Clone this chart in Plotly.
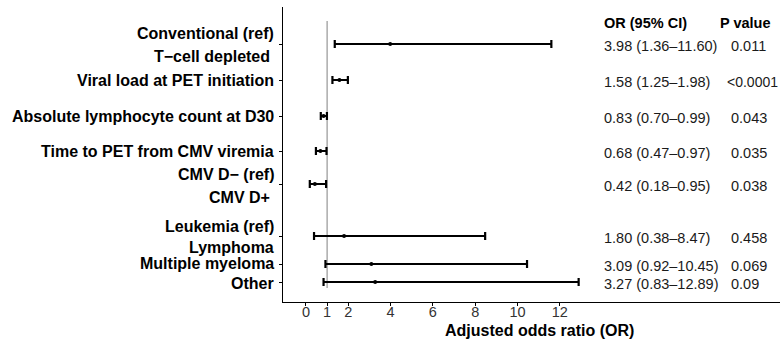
import plotly.graph_objects as go

# ---- data ----
row_labels = ["T−cell depleted", "Viral load at PET initiation", "Absolute lymphocyte count at D30",
              "Time to PET from CMV viremia", "CMV D+", "Lymphoma", "Multiple myeloma", "Other"]
or_vals = [3.98, 1.58, 0.83, 0.68, 0.42, 1.80, 3.09, 3.27]
ci_low = [1.36, 1.25, 0.70, 0.47, 0.18, 0.38, 0.92, 0.83]
ci_high = [11.60, 1.98, 0.99, 0.97, 0.95, 8.47, 10.45, 12.89]
p_values = ["0.011", "<0.0001", "0.043", "0.035", "0.038", "0.458", "0.069", "0.09"]
x_ticks = [0, 1, 2, 4, 6, 8, 10, 12]

# y-axis label texts (including reference categories)
axis_labels = ["Conventional (ref)", "T−cell depleted ", "Viral load at PET initiation",
               "Absolute lymphocyte count at D30", "Time to PET from CMV viremia",
               "CMV D− (ref)", "CMV D+ ", "Leukemia (ref)", "Lymphoma", "Multiple myeloma", "Other"]

# ---- layout positions (vertical units, top = small) ----
row_pos = [44, 80, 116, 151, 184, 236, 264, 282]
label_pos = [33, 56, 80, 116, 151, 174, 197, 226, 247, 263, 283]
y_range = [302, 7]
x_range = [-1.087, 22.41]

FONT = "Liberation Sans, Arial, Helvetica, sans-serif"

fig = go.Figure()
fig.add_trace(go.Scatter(
    x=or_vals, y=row_pos, mode="markers",
    marker=dict(color="black", size=4),
    error_x=dict(type="data", symmetric=False,
                 array=[h - o for h, o in zip(ci_high, or_vals)],
                 arrayminus=[o - l for o, l in zip(or_vals, ci_low)],
                 color="black", thickness=2.2, width=4),
    showlegend=False, hoverinfo="skip",
))

# reference line at OR = 1
fig.add_shape(type="line", x0=1, x1=1, y0=21, y1=288, xref="x", yref="y",
              line=dict(color="#ababab", width=1.5), layer="below")

annotations = []
# y labels
for t, yp in zip(axis_labels, label_pos):
    annotations.append(dict(x=0, xref="paper", y=yp, yref="y", text=f"<b>{t}</b>",
                            xanchor="right", yanchor="middle", xshift=-7, showarrow=False,
                            font=dict(family=FONT, size=16, color="black")))
# headers
annotations.append(dict(x=14.0, y=23, xref="x", yref="y", text="<b>OR (95% CI)</b>",
                        xanchor="left", yanchor="middle", showarrow=False,
                        font=dict(family=FONT, size=14.5, color="black")))
annotations.append(dict(x=19.5, y=23, xref="x", yref="y", text="<b>P value</b>",
                        xanchor="left", yanchor="middle", showarrow=False,
                        font=dict(family=FONT, size=14.5, color="black")))
# value columns
for o, l, h, p, yp in zip(or_vals, ci_low, ci_high, p_values, row_pos):
    annotations.append(dict(x=14.0, y=yp + 2, xref="x", yref="y",
                            text=f"{o:.2f} ({l:.2f}–{h:.2f})",
                            xanchor="left", yanchor="middle", showarrow=False,
                            font=dict(family=FONT, size=14.5, color="#1a1a1a")))
    is_lt = p.startswith("<")
    annotations.append(dict(x=19.82 if is_lt else 20.0, y=yp + 2, xref="x", yref="y",
                            text=p.replace("<", "&lt;"),
                            xanchor="left", yanchor="middle", showarrow=False,
                            font=dict(family=FONT, size=14 if is_lt else 14.5, color="#1a1a1a")))
# x axis title
annotations.append(dict(x=11.02, xref="x", y=-38 / 295, yref="paper",
                        text="<b>Adjusted odds ratio (OR)</b>", xanchor="center", yanchor="bottom",
                        borderpad=0, showarrow=False,
                        font=dict(family=FONT, size=16, color="black")))

fig.update_layout(
    width=780, height=340,
    margin=dict(l=283, r=0, t=7, b=38),
    paper_bgcolor="white", plot_bgcolor="white",
    annotations=annotations,
    xaxis=dict(range=x_range, tickvals=x_ticks, ticktext=[str(v) for v in x_ticks],
               showgrid=False, zeroline=False, showline=True, linecolor="black", linewidth=1,
               ticks="outside", ticklen=3, tickcolor="black", tickwidth=1,
               ticklabelstandoff=-6,
               tickfont=dict(family=FONT, size=14.5, color="#333333")),
    yaxis=dict(range=y_range, tickvals=row_pos, showticklabels=False,
               showgrid=False, zeroline=False, showline=True, linecolor="black", linewidth=1,
               ticks="outside", ticklen=3, tickcolor="black", tickwidth=1),
)

fig.write_html("out.html", config={"displayModeBar": False},
               post_script="document.body.style.margin='0px';document.body.style.overflow='hidden';")
